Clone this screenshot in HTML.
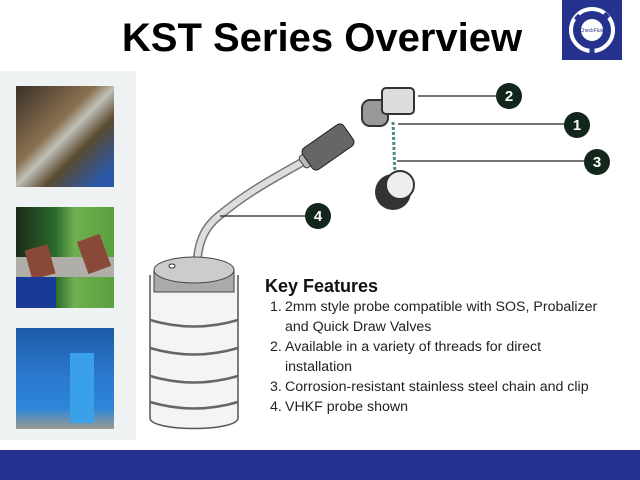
<!DOCTYPE html>
<html><head><meta charset="utf-8"><style>
*{margin:0;padding:0}
body{width:640px;height:480px;position:relative;background:#fff;overflow:hidden;font-family:"Liberation Sans",sans-serif}
.a{position:absolute}
.title{left:0;width:640px;top:16px;text-align:center;font-size:40px;font-weight:bold;color:#000;padding-left:2px}
.ph{position:absolute;left:16px;width:98px;height:101px}
.kf{left:265px;top:276px;font-size:18px;font-weight:bold;color:#111}
.li{position:absolute;left:270px;font-size:14.2px;color:#222;white-space:nowrap}
.li span{display:inline-block;width:15px}
</style></head><body>
<div class="a title">KST Series Overview</div>
<div class="a" style="left:562px;top:0;width:60px;height:60px;background:#25338f">
<svg width="60" height="60"><circle cx="30" cy="30" r="21" fill="none" stroke="#fff" stroke-width="4"/><path d="M14 16 L30 30 L46 14" stroke="#25338f" stroke-width="6" fill="none"/><path d="M30 30 L30 55" stroke="#25338f" stroke-width="5"/><circle cx="30" cy="30" r="11" fill="#fff"/><text x="30" y="32" font-size="5" text-anchor="middle" fill="#25338f" font-family="Liberation Sans">CheckFluid</text></svg></div>
<div class="a" style="left:0;top:71px;width:136px;height:369px;background:#eef2f3"></div>
<div class="ph" style="top:86px;background:linear-gradient(135deg,#3a3028,#8a7050 40%,#c0c0b8 50%,#5a4a30 65%,#2a58a8 90%)"></div>
<div class="ph" style="top:207px;background:linear-gradient(90deg,#1a2a18,#2a6a2a 40%,#70b050 60%,#5aa040);"><div class="a" style="left:0;top:50px;width:98px;height:20px;background:#b0aea8"></div><div class="a" style="left:12px;top:40px;width:24px;height:30px;background:#8a4838;transform:rotate(-15deg)"></div><div class="a" style="left:66px;top:30px;width:24px;height:34px;background:#8a4838;transform:rotate(-20deg)"></div><div class="a" style="left:0;top:70px;width:40px;height:31px;background:#1a3a9a"></div></div>
<div class="ph" style="top:328px;background:linear-gradient(180deg,#1e5aa8,#2a7ad0 50%,#2f86d8 80%,#9a9a90)"><div class="a" style="left:54px;top:25px;width:24px;height:70px;background:#3aa0ea"></div></div>
<svg class="a" style="left:0;top:0" width="640" height="450">
<path d="M196 285 C196 250,200 230,220 215 C250 190,280 175,315 155" stroke="#777" stroke-width="9" fill="none"/>
<path d="M196 285 C196 250,200 230,220 215 C250 190,280 175,315 155" stroke="#ddd" stroke-width="6" fill="none"/>
<rect x="300" y="150" width="22" height="14" rx="3" fill="#bbb" stroke="#444" transform="rotate(-35 311 157)"/>
<rect x="315" y="122" width="26" height="50" rx="5" fill="#666" stroke="#222" transform="rotate(55 328 147)"/>
<rect x="362" y="100" width="26" height="26" rx="8" fill="#999" stroke="#333" stroke-width="2"/>
<rect x="382" y="88" width="32" height="26" rx="4" fill="#ddd" stroke="#333" stroke-width="2"/>
<line x1="393" y1="122" x2="395" y2="176" stroke="#4a8a8a" stroke-width="3" stroke-dasharray="3 2"/>
<circle cx="393" cy="192" r="18" fill="#333"/><circle cx="400" cy="185" r="14" fill="#eee" stroke="#333" stroke-width="2"/>
<path d="M150 275 L150 418 C150 432,238 432,238 418 L238 275" fill="#f4f4f4" stroke="#555" stroke-width="1.5"/>
<g stroke="#666" stroke-width="2.5" fill="none"><path d="M150 320 Q194 333 238 320"/><path d="M150 348 Q194 361 238 348"/><path d="M150 376 Q194 389 238 376"/><path d="M150 402 Q194 415 238 402"/></g>
<rect x="154" y="270" width="80" height="22" fill="#aaa" stroke="#444"/>
<ellipse cx="194" cy="270" rx="40" ry="13" fill="#ccc" stroke="#444"/>
<ellipse cx="172" cy="266" rx="3" ry="2" fill="#fff" stroke="#333"/>
<g stroke="#222" stroke-width="1.3"><line x1="418" y1="96" x2="496" y2="96"/><line x1="398" y1="124" x2="564" y2="124"/><line x1="397" y1="161" x2="584" y2="161"/><line x1="220" y1="216" x2="305" y2="216"/></g>
<g fill="#13261c"><circle cx="509" cy="96" r="13"/><circle cx="577" cy="125" r="13"/><circle cx="597" cy="162" r="13"/><circle cx="318" cy="216" r="13"/></g>
<g fill="#fff" font-size="15" font-weight="bold" text-anchor="middle" font-family="Liberation Sans"><text x="509" y="101">2</text><text x="577" y="130">1</text><text x="597" y="167">3</text><text x="318" y="221">4</text></g>
</svg>
<div class="a kf">Key Features</div>
<div class="li" style="top:299px"><span>1.</span>2mm style probe compatible with SOS, Probalizer</div>
<div class="li" style="top:319px"><span></span>and Quick Draw Valves</div>
<div class="li" style="top:339px"><span>2.</span>Available in a variety of threads for direct</div>
<div class="li" style="top:359px"><span></span>installation</div>
<div class="li" style="top:379px"><span>3.</span>Corrosion-resistant stainless steel chain and clip</div>
<div class="li" style="top:399px"><span>4.</span>VHKF probe shown</div>
<div class="a" style="left:0;top:450px;width:640px;height:30px;background:#24318f"></div>
</body></html>
